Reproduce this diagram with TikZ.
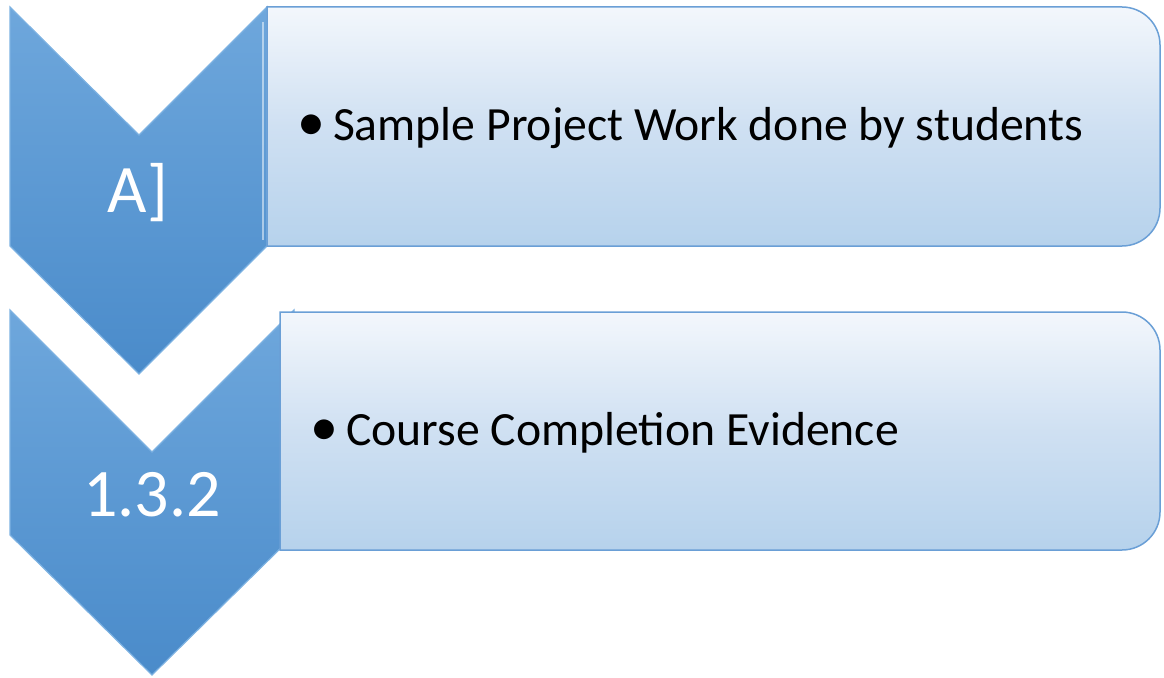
\documentclass[tikz,border=0pt]{standalone}
\usepackage{fontspec}
\setmainfont{Carlito}
\begin{document}
\begin{tikzpicture}[x=1pt,y=-1pt,
  chev/.style={top color=chevtop,bottom color=chevbot,draw=chevedge,line width=1.2pt,line join=miter},
  panel/.style={top color=paneltop,bottom color=panelbot,middle color=panelmid,draw=paneledge,line width=1.5pt},
  lbl/.style={text=white,font=\fontsize{68}{80}\selectfont,anchor=base,inner sep=0pt},
  item/.style={text=black,font=\fontsize{47.7}{56}\selectfont,anchor=base west,inner sep=0pt}]
\definecolor{chevtop}{HTML}{6EA7DC}
\definecolor{chevbot}{HTML}{4A8BCA}
\definecolor{chevedge}{HTML}{7DB2E2}
\definecolor{paneltop}{HTML}{F3F7FC}
\definecolor{panelmid}{HTML}{CFE0F2}
\definecolor{panelbot}{HTML}{B6D2EC}
\definecolor{paneledge}{HTML}{6A9FD6}
\newcommand{\bigbullet}{\raisebox{-0.5pt}{\fontsize{56}{56}\selectfont•}\hspace{8pt}}
\useasboundingbox (0,0) rectangle (1164,677);
% chevrons
\path[chev] (10,7) -- (139,135) -- (267,7) -- (267,246) -- (139,374) -- (10,246) -- cycle;
\path[chev] (10,310) -- (152,452) -- (294,310) -- (294,535) -- (152,675) -- (10,535) -- cycle;
% panels
\path[panel] (267,7) -- (1122,7) arc[start angle=-90,end angle=0,radius=38] -- (1160,208) arc[start angle=0,end angle=90,radius=38] -- (267,246) -- cycle;
\path[panel] (280,312) -- (1122,312) arc[start angle=-90,end angle=0,radius=38] -- (1160,512) arc[start angle=0,end angle=90,radius=38] -- (280,550) -- cycle;
% highlight on chevron right edge
\draw[white,opacity=0.5,line width=2pt] (263,22) -- (263,240);
% labels
\node[lbl] (l1) at (138,212) {A]};
\node[lbl] (l2) at (152,516) {1.3.2};
\node[item] (t1) at (297,140) {\bigbullet Sample Project Work done by students};
\node[item] (t2) at (310,445) {\bigbullet Course Completion Evidence};
\end{tikzpicture}
\end{document}
